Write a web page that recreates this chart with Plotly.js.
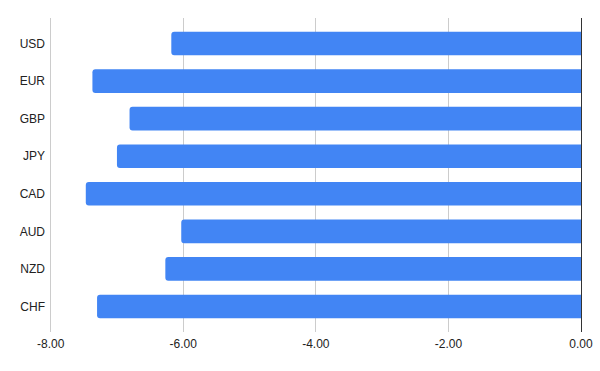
<!DOCTYPE html>
<html><head><meta charset="utf-8">
<script src="https://cdn.plot.ly/plotly-3.0.1.min.js"></script>
<style>html,body{margin:0;padding:0;background:#fff}#chart{width:600px;height:371px}</style>
</head><body><div id="chart"></div>
<script>
const currencies = ["USD","EUR","GBP","JPY","CAD","AUD","NZD","CHF"];
const values = [-6.18,-7.37,-6.81,-7.00,-7.47,-6.03,-6.27,-7.30];
const tickValues = [-8,-6,-4,-2,0];
const tickLabels = ["-8.00","-6.00","-4.00","-2.00","0.00"];

Plotly.newPlot("chart",[{
  type:"bar", orientation:"h", y:currencies, x:values,
  marker:{color:"#4285F4", cornerradius:3}, width:0.63, hoverinfo:"skip"
}],{
  width:600,height:371,
  margin:{l:49,r:19,t:18,b:39},
  paper_bgcolor:"#fff",plot_bgcolor:"#fff",
  font:{family:"Liberation Sans, Arial, sans-serif",size:12,color:"#222"},
  showlegend:false,
  xaxis:{range:[-8.025,0],tickvals:tickValues,ticktext:tickLabels,showgrid:true,gridcolor:"#cccccc",
    zeroline:true,zerolinecolor:"#333333",zerolinewidth:1,showline:false,ticks:"",ticklabelstandoff:3,fixedrange:true},
  yaxis:{range:[7.68,-0.68],type:"category",showgrid:false,zeroline:false,ticks:"",ticklabelstandoff:3,fixedrange:true},
  bargap:0.37
},{displayModeBar:false,staticPlot:true});
</script></body></html>
